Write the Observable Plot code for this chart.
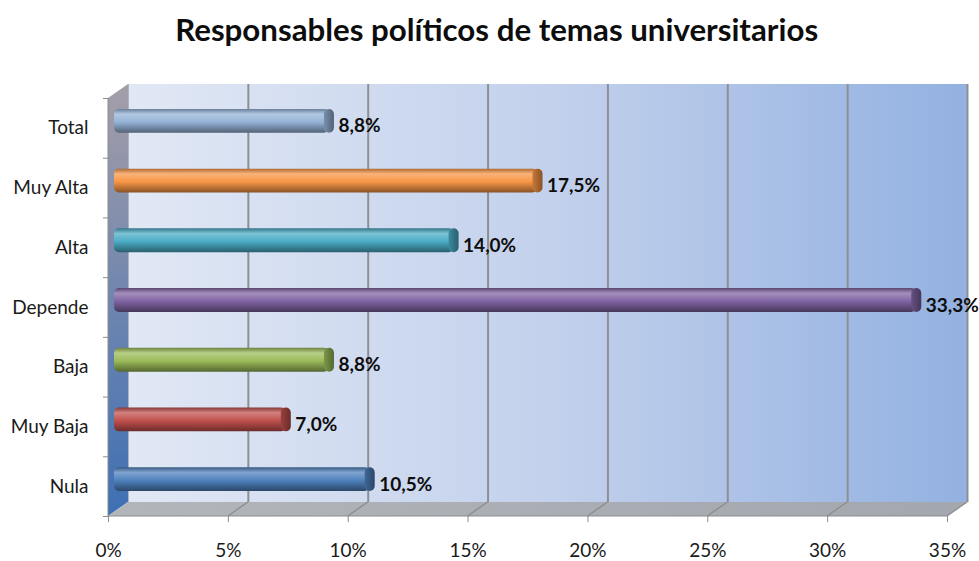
<!DOCTYPE html>
<html>
<head>
<meta charset="utf-8">
<script src="https://cdn.jsdelivr.net/npm/d3@7"></script>
<script src="https://cdn.jsdelivr.net/npm/@observablehq/plot@0.6"></script>
<style>
  html, body { margin: 0; padding: 0; background: #ffffff; }
  #title { height: 70px; box-sizing: border-box; padding-top: 11px; padding-left: 14px; text-align: center;
           font-family: Lato, "Open Sans", sans-serif; font-weight: bold; font-size: 30px; color: #0d0d0d; white-space: nowrap; }
  #title span { display: inline-block; transform-origin: center; }
</style>
</head>
<body>
<div id="title"><span>Responsables políticos de temas universitarios</span></div>
<div id="chart"></div>
<script>
// ---- data ----
const categories = ["Total", "Muy Alta", "Alta", "Depende", "Baja", "Muy Baja", "Nula"];
const values = [8.8, 17.5, 14.0, 33.3, 8.8, 7.0, 10.5];
const valueLabels = ["8,8%", "17,5%", "14,0%", "33,3%", "8,8%", "7,0%", "10,5%"];
const barColors = ["#95b3d7", "#f79646", "#4bacc6", "#8064a2", "#9bbb59", "#c0504d", "#4f81bd"];
const xTicks = [0, 5, 10, 15, 20, 25, 30, 35];
const xTickLabels = ["0%", "5%", "10%", "15%", "20%", "25%", "30%", "35%"];

const rows = categories.map((c, i) => ({
  category: c, i, value: values[i], label: valueLabels[i], id: "bar" + i
}));

// 3D depth offset (styling)
const DX = 20, DY = -14;
const BX = 10, BY = -7;
const half = 0.2;

function depthFrame(index, scales) {
  const x = scales.x, y = scales.y;
  const x0 = x(xTicks[0]), x1 = x(xTicks[xTicks.length - 1]);
  const yT = y(0), yB = y(categories.length);
  const g = d3.create("svg:g");
  g.append("path")
    .attr("d", `M${x0},${yT}L${x0 + DX},${yT + DY}L${x0 + DX},${yB + DY}L${x0},${yB}Z`)
    .attr("fill", "url(#leftwall)");
  g.append("path")
    .attr("d", `M${x0},${yB}L${x0 + DX},${yB + DY}L${x1 + DX},${yB + DY}L${x1},${yB}Z`)
    .attr("fill", "url(#floor)");
  for (const t of xTicks.slice(1)) {
    g.append("line")
      .attr("x1", x(t)).attr("y1", yB)
      .attr("x2", x(t) + DX).attr("y2", yB + DY)
      .attr("stroke", "#8a8c90").attr("stroke-width", 1.3);
  }
  // front axis lines
  g.append("line").attr("x1", x0).attr("y1", yT).attr("x2", x0).attr("y2", yB)
    .attr("stroke", "#8c8c8c").attr("stroke-width", 1);
  g.append("line").attr("x1", x0).attr("y1", yB).attr("x2", x1).attr("y2", yB)
    .attr("stroke", "#8c8c8c").attr("stroke-width", 1);
  return g.node();
}

const svg = Plot.plot({
  width: 979,
  height: 491,
  marginLeft: 108,
  marginRight: 32,
  marginTop: 28,
  marginBottom: 45,
  style: { fontFamily: "Lato, 'Open Sans', sans-serif", fontSize: "19px", color: "#1a1a1a", background: "transparent" },
  x: { domain: [xTicks[0], xTicks[xTicks.length - 1]], label: null },
  y: { domain: [0, categories.length], reverse: true, label: null },
  color: { type: "identity" },
  marks: [
    // back wall
    Plot.rect([{ a: 0 }], {
      x1: () => xTicks[0], x2: () => xTicks[xTicks.length - 1],
      y1: () => 0, y2: () => categories.length,
      dx: DX, dy: DY, fill: "url(#wall)"
    }),
    // gridlines on back wall
    Plot.ruleX(xTicks.slice(1), {
      y1: () => 0, y2: () => categories.length, dx: DX, dy: DY,
      stroke: "#8d8f93", strokeWidth: 2
    }),
    Plot.ruleX([xTicks[0]], {
      y1: () => 0, y2: () => categories.length, dx: DX, dy: DY,
      stroke: "#b0b4bb", strokeWidth: 1
    }),
    depthFrame,
    // axes
    Plot.axisX({
      ticks: xTicks, tickFormat: d => xTickLabels[xTicks.indexOf(d)], label: null,
      tickSize: 6, tickPadding: 21, stroke: "#8c8c8c", fill: "#1a1a1a", fontSize: 19
    }),
    Plot.axisY({
      ticks: categories.map((_, i) => i + 0.5), tickFormat: d => categories[Math.floor(d)], label: null,
      tickSize: 0, tickPadding: 20, fill: "#1a1a1a", fontSize: 19
    }),
    Plot.axisY({
      ticks: d3.range(categories.length + 1), tickFormat: () => "", label: null,
      tickSize: 5, stroke: "#8c8c8c"
    }),
    // bars (cylinders)
    Plot.rectX(rows, {
      x1: () => 0, x2: "value",
      y1: d => d.i + 0.5 - half, y2: d => d.i + 0.5 + half,
      dx: BX, dy: BY, insetLeft: -4, insetRight: 0, rx: 5,
      fill: d => `url(#${d.id})`
    }),
    // end caps
    Plot.rectX(rows, {
      x1: "value", x2: "value",
      y1: d => d.i + 0.5 - half, y2: d => d.i + 0.5 + half,
      dx: BX, dy: BY, insetLeft: -5, insetRight: -5, rx: 5,
      fill: d => `url(#${d.id}cap)`
    }),
    // value labels
    Plot.text(rows, {
      x: "value", y: d => d.i + 0.5, text: "label",
      dx: BX + 9, dy: -2, textAnchor: "start",
      fontWeight: "bold", fontSize: 19, fill: "#0d0d0d"
    })
  ]
});

// gradients
const defs = d3.select(svg).insert("defs", ":first-child");
const wall = defs.append("linearGradient").attr("id", "wall").attr("x1", 0).attr("x2", 1).attr("y1", 0).attr("y2", 0);
wall.append("stop").attr("offset", "0%").attr("stop-color", "#e1e8f5");
wall.append("stop").attr("offset", "50%").attr("stop-color", "#c3d1ec");
wall.append("stop").attr("offset", "100%").attr("stop-color", "#93b1e1");

const lw = defs.append("linearGradient").attr("id", "leftwall").attr("x1", 0).attr("x2", 0).attr("y1", 0).attr("y2", 1);
lw.append("stop").attr("offset", "0%").attr("stop-color", "#a59ea8");
lw.append("stop").attr("offset", "45%").attr("stop-color", "#7488ae");
lw.append("stop").attr("offset", "100%").attr("stop-color", "#3e70b4");

const fl = defs.append("linearGradient").attr("id", "floor").attr("x1", 0).attr("x2", 1).attr("y1", 0).attr("y2", 0);
fl.append("stop").attr("offset", "0%").attr("stop-color", "#b2b5ba");
fl.append("stop").attr("offset", "100%").attr("stop-color", "#a3a7ae");

rows.forEach((d, i) => {
  const base = barColors[i];
  const light = d3.interpolateRgb(base, "#ffffff")(0.28);
  const dark = d3.interpolateRgb(base, "#000000")(0.3);
  const darker = d3.interpolateRgb(base, "#000000")(0.45);
  const g = defs.append("linearGradient").attr("id", d.id).attr("x1", 0).attr("x2", 0).attr("y1", 0).attr("y2", 1);
  g.append("stop").attr("offset", "0%").attr("stop-color", dark);
  g.append("stop").attr("offset", "22%").attr("stop-color", light);
  g.append("stop").attr("offset", "55%").attr("stop-color", base);
  g.append("stop").attr("offset", "100%").attr("stop-color", darker);
  const c = defs.append("linearGradient").attr("id", d.id + "cap").attr("x1", 0).attr("x2", 1).attr("y1", 0).attr("y2", 0);
  c.append("stop").attr("offset", "0%").attr("stop-color", d3.interpolateRgb(base, "#000000")(0.2));
  c.append("stop").attr("offset", "100%").attr("stop-color", d3.interpolateRgb(base, "#000000")(0.45));
});

document.getElementById("chart").appendChild(svg);

// fit title width to the reference (~643px)
const span = document.querySelector("#title span");
const w = span.getBoundingClientRect().width;
if (w > 0) span.style.transform = `scaleX(${643 / w})`;
</script>
</body>
</html>
